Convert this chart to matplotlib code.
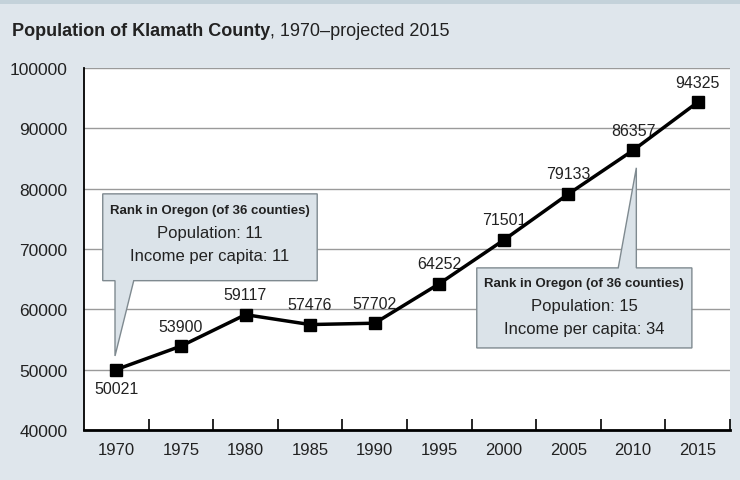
import matplotlib
matplotlib.use("Agg")
import matplotlib.pyplot as plt
from matplotlib.patches import Polygon
from matplotlib import font_manager

years = ["1970", "1975", "1980", "1985", "1990", "1995", "2000", "2005", "2010", "2015"]
population = [50021, 53900, 59117, 57476, 57702, 64252, 71501, 79133, 86357, 94325]
y_ticks = [40000, 50000, 60000, 70000, 80000, 90000, 100000]

names = {f.name for f in font_manager.fontManager.ttflist}
FONT = "Liberation Sans Narrow" if "Liberation Sans Narrow" in names else "Liberation Sans"
plt.rcParams["font.family"] = [FONT, "DejaVu Sans"]

BG = "#dfe6ec"
STRIP = "#c4d2da"
BOX = "#dbe3e9"
TXT = "#222222"

W, H = 740, 481
fig = plt.figure(figsize=(W / 100, H / 100), dpi=100, facecolor=BG)
fig.patches.append(plt.Rectangle((0, 1 - 5 / H), 1, 5 / H, transform=fig.transFigure,
                                 facecolor=STRIP, edgecolor="none"))

ax = fig.add_axes([84 / W, (H - 431) / H, 646 / W, (431 - 69) / H])
ax.set_facecolor("white")
x = list(range(len(years)))
ax.set_xlim(-0.5, len(years) - 0.5)
ax.set_ylim(y_ticks[0], y_ticks[-1])

ax.set_yticks(y_ticks)
ax.set_yticklabels([str(v) for v in y_ticks])
ax.set_xticks(x)
ax.set_xticklabels(years)
ax.set_xticks([i + 0.5 for i in x], minor=True)
ax.tick_params(axis="x", which="major", length=0, pad=9, labelsize=12, labelcolor=TXT)
ax.tick_params(axis="x", which="minor", direction="in", length=8, width=1.2, color="black")
ax.tick_params(axis="y", length=0, pad=12, labelsize=12.5, labelcolor=TXT)
ax.grid(axis="y", color="#9a9a9a", linewidth=1)
ax.set_axisbelow(True)
for s in ["top", "right"]:
    ax.spines[s].set_visible(False)
ax.spines["left"].set_linewidth(1.3)
ax.spines["bottom"].set_linewidth(2)

ax.plot(x, population, color="black", linewidth=2.5, marker="s", markersize=8, zorder=5)
for i, v in enumerate(population):
    if i == 0:
        ax.annotate(str(v), (i, v), xytext=(0, -8), textcoords="offset points",
                    ha="center", va="top", fontsize=11.5, color=TXT)
    else:
        ax.annotate(str(v), (i, v), xytext=(0, 9), textcoords="offset points",
                    ha="center", va="bottom", fontsize=11.5, color=TXT)


def callout(x0, x1, ytop, ybot, bx0, bx1, tip, top_pointer):
    if top_pointer:
        pts = [(x0, ybot), (x1, ybot), (x1, ytop), (bx1, ytop), tip, (bx0, ytop), (x0, ytop)]
    else:
        pts = [(x0, ytop), (x1, ytop), (x1, ybot), (bx1, ybot), tip, (bx0, ybot), (x0, ybot)]
    poly = Polygon(pts, closed=True, facecolor=BOX, edgecolor="#7f8a90", linewidth=1, zorder=6)
    ax.add_patch(poly)


# callout 1 (1970)
tip1 = (0 - 0.02, population[0] + 2250)
callout(-0.21, 3.11, 79140, 64750, -0.02, 0.27, tip1, top_pointer=False)
cx1 = (-0.21 + 3.11) / 2
ax.text(cx1, 76500, "Rank in Oregon (of 36 counties)", ha="center", va="center",
        fontsize=9.5, fontweight="bold", color=TXT, zorder=7)
ax.text(cx1, 72800, "Population: 11", ha="center", va="center", fontsize=12, color=TXT, zorder=7)
ax.text(cx1, 68900, "Income per capita: 11", ha="center", va="center", fontsize=12, color=TXT, zorder=7)

# callout 2 (2010)
tip2 = (8 + 0.05, population[8] - 2900)
callout(5.58, 8.91, 66870, 53600, 7.77, 8.05, tip2, top_pointer=True)
cx2 = (5.58 + 8.91) / 2
ax.text(cx2, 64300, "Rank in Oregon (of 36 counties)", ha="center", va="center",
        fontsize=9.5, fontweight="bold", color=TXT, zorder=7)
ax.text(cx2, 60600, "Population: 15", ha="center", va="center", fontsize=12, color=TXT, zorder=7)
ax.text(cx2, 56800, "Income per capita: 34", ha="center", va="center", fontsize=12, color=TXT, zorder=7)

# title
t1 = fig.text(12 / W, 1 - 32 / H, "Population of Klamath County", fontsize=13,
              fontweight="bold", color=TXT, va="center", ha="left")
fig.canvas.draw()
bb = t1.get_window_extent()
fig.text(bb.x1 / W, 1 - 32 / H, ", 1970–projected 2015", fontsize=13, color=TXT,
         va="center", ha="left")

fig.savefig("out.png", dpi=100, facecolor=BG)
